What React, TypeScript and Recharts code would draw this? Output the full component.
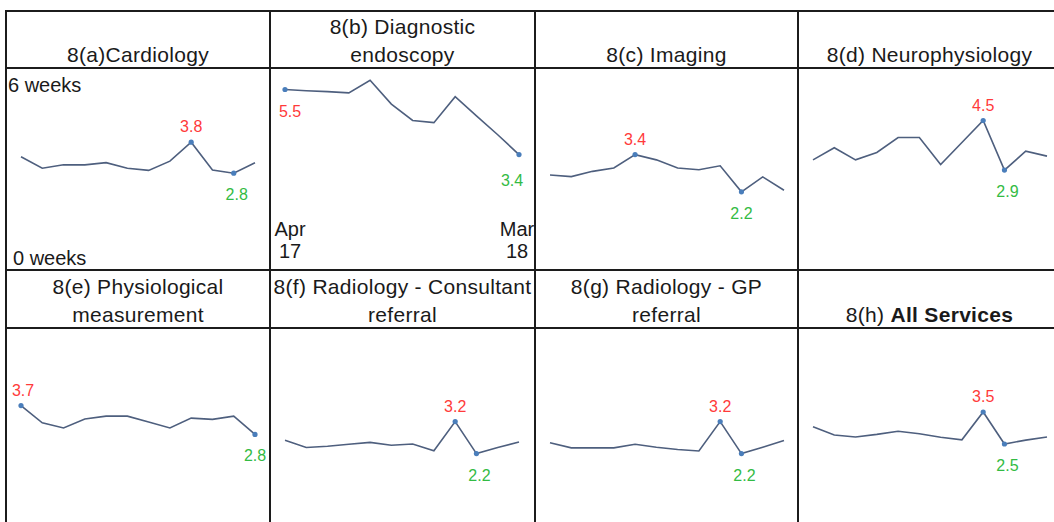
import React from 'react';
import { LineChart, Line, XAxis, YAxis, LabelList } from 'recharts';

// months Apr 17 .. Mar 18
const months = ['Apr 17', 'May 17', 'Jun 17', 'Jul 17', 'Aug 17', 'Sep 17', 'Oct 17', 'Nov 17', 'Dec 17', 'Jan 18', 'Feb 18', 'Mar 18'];

// median wait in weeks
const cardiology = [3.33, 2.96, 3.07, 3.07, 3.14, 2.96, 2.89, 3.19, 3.8, 2.9, 2.8, 3.14];
const endoscopy = [5.5, 5.46, 5.43, 5.39, 5.8, 5.03, 4.5, 4.43, 5.27, 4.65, 4.04, 3.4];
const imaging = [2.74, 2.69, 2.86, 2.97, 3.4, 3.23, 2.97, 2.91, 3.04, 2.2, 2.68, 2.25];
const neurophysiology = [3.23, 3.62, 3.23, 3.47, 3.95, 3.95, 3.08, 3.79, 4.5, 2.9, 3.51, 3.35];
const physiological = [3.7, 3.16, 3.0, 3.28, 3.37, 3.37, 3.19, 3.0, 3.31, 3.27, 3.37, 2.8];
const radiologyConsultant = [2.62, 2.39, 2.43, 2.49, 2.55, 2.46, 2.5, 2.29, 3.2, 2.2, 2.39, 2.56];
const radiologyGp = [2.54, 2.38, 2.38, 2.38, 2.49, 2.4, 2.33, 2.28, 3.2, 2.2, 2.4, 2.61];
const allServices = [3.04, 2.78, 2.72, 2.8, 2.9, 2.82, 2.71, 2.63, 3.5, 2.5, 2.62, 2.72];

const FONT = '"Liberation Sans", Arial, sans-serif';
const LINE = '#4e5f7e';
const DOT = '#4a7ebb';
const RED = '#ff3a3a';
const GREEN = '#33bb44';
const BORDER = '#1c1c1c';

const COLS = [5, 269, 534, 797];
const HLINES = [10, 67, 269, 327];

type Panel = {
  code: string;
  name: string[];
  bold?: boolean;
  values: number[];
  hi: number;
  lo: number;
  hiBelow?: boolean;
  hiDx?: number;
  loDx?: number;
  loDy?: number;
};

const panels: Panel[] = [
  { code: '8(a)', name: ['Cardiology'], values: cardiology, hi: 8, lo: 10, loDx: 3 },
  { code: '8(b) ', name: ['Diagnostic', 'endoscopy'], values: endoscopy, hi: 0, lo: 11, hiBelow: true, hiDx: 5, loDx: -7, loDy: 31 },
  { code: '8(c) ', name: ['Imaging'], values: imaging, hi: 4, lo: 9 },
  { code: '8(d) ', name: ['Neurophysiology'], values: neurophysiology, hi: 8, lo: 9, loDx: 3 },
  { code: '8(e) ', name: ['Physiological', 'measurement'], values: physiological, hi: 0, lo: 11, hiDx: 2 },
  { code: '8(f) ', name: ['Radiology - Consultant', 'referral'], values: radiologyConsultant, hi: 8, lo: 9, loDx: 3 },
  { code: '8(g) ', name: ['Radiology - GP', 'referral'], values: radiologyGp, hi: 8, lo: 9, loDx: 3 },
  { code: '8(h) ', name: ['All Services'], bold: true, values: allServices, hi: 8, lo: 9, loDx: 3 },
];

function Spark({ p, row }: { p: Panel; row: number }) {
  const data = months.map((m, i) => ({ month: m, v: p.values[i] }));
  const margin = row === 0 ? { top: 5, right: 14, bottom: 7, left: 14 } : { top: 3, right: 14, bottom: 5, left: 14 };

  const renderDot = (d: any) => {
    if (d.index !== p.hi && d.index !== p.lo) return <g key={`d${d.index}`} />;
    return <circle key={`d${d.index}`} cx={d.cx} cy={d.cy} r={2.6} fill={DOT} stroke="none" />;
  };

  const renderLabel = (l: any) => {
    const { x, y, index, value } = l;
    if (index === p.hi) {
      const dy = p.hiBelow ? 27 : -10;
      return (
        <text key={`l${index}`} x={x + (p.hiDx ?? 0)} y={y + dy} textAnchor="middle" fill={RED} fontSize={16} fontFamily={FONT}>
          {Number(value).toFixed(1)}
        </text>
      );
    }
    if (index === p.lo) {
      return (
        <text key={`l${index}`} x={x + (p.loDx ?? 0)} y={y + (p.loDy ?? 27)} textAnchor="middle" fill={GREEN} fontSize={16} fontFamily={FONT}>
          {Number(value).toFixed(1)}
        </text>
      );
    }
    return null;
  };

  return (
    <LineChart width={262} height={row === 0 ? 198 : 200} data={data} margin={margin}>
      <XAxis dataKey="month" hide />
      <YAxis hide domain={[0, 6]} />
      <Line type="linear" dataKey="v" stroke={LINE} strokeWidth={1.6} dot={renderDot} activeDot={false} isAnimationActive={false}>
        <LabelList dataKey="v" content={renderLabel} />
      </Line>
    </LineChart>
  );
}

const textStyle: React.CSSProperties = { position: 'absolute', fontSize: 20, color: '#1a1a1a', lineHeight: '22px', whiteSpace: 'nowrap' };

export default function App() {
  return (
    <div style={{ position: 'absolute', left: 0, top: 0, width: 1054, height: 522, overflow: 'hidden', background: '#fff', fontFamily: FONT }}>
      {panels.map((p, i) => {
        const row = Math.floor(i / 4);
        const col = i % 4;
        const left = COLS[col] + 2;
        const right = col < 3 ? COLS[col + 1] : 1060;
        const hTop = HLINES[row * 2] + 2;
        const hBottom = HLINES[row * 2 + 1] + 2;
        const cTop = HLINES[row * 2 + 1] + 2;
        return (
          <React.Fragment key={i}>
            <div style={{ position: 'absolute', left, top: hTop, width: right - left, height: hBottom - hTop, display: 'flex', flexDirection: 'column', justifyContent: 'flex-end', alignItems: 'center', fontSize: 21, letterSpacing: 0.3, lineHeight: '28px', color: '#1a1a1a', whiteSpace: 'nowrap' }}>
              {p.name.length > 1 ? (
                <>
                  <div>{p.code + p.name[0]}</div>
                  <div>{p.name[1]}</div>
                </>
              ) : (
                <div>
                  {p.code}
                  <span style={{ fontWeight: p.bold ? 700 : 400 }}>{p.name[0]}</span>
                </div>
              )}
            </div>
            <div style={{ position: 'absolute', left, top: cTop }}>
              <Spark p={p} row={row} />
            </div>
          </React.Fragment>
        );
      })}

      {/* axis notes */}
      <div style={{ ...textStyle, left: 8, top: 74 }}>6 weeks</div>
      <div style={{ ...textStyle, left: 13, top: 247 }}>0 weeks</div>
      <div style={{ ...textStyle, left: 270, top: 218, width: 40, textAlign: 'center' }}>Apr<br />17</div>
      <div style={{ ...textStyle, left: 497, top: 218, width: 40, textAlign: 'center' }}>Mar<br />18</div>

      {/* grid lines */}
      {HLINES.map(y => (
        <div key={`h${y}`} style={{ position: 'absolute', left: COLS[0], top: y, width: 1060, height: 2, background: BORDER }} />
      ))}
      {COLS.map(x => (
        <div key={`v${x}`} style={{ position: 'absolute', left: x, top: HLINES[0], width: 2, height: 522, background: BORDER }} />
      ))}
    </div>
  );
}
